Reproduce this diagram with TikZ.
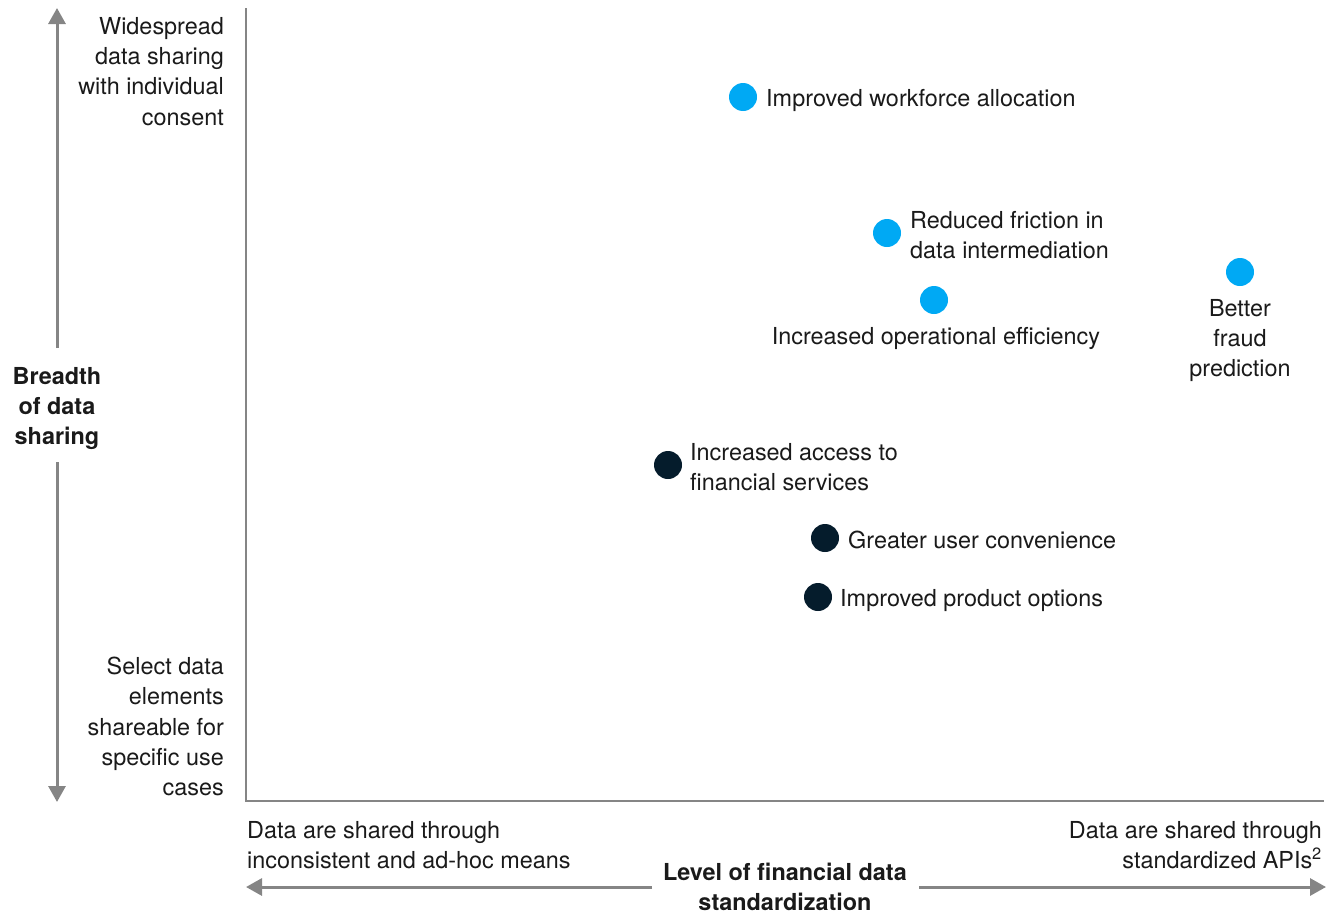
\documentclass[tikz,border=0pt]{standalone}
\usepackage{fontspec}
\setmainfont{TeX Gyre Heros}
\usetikzlibrary{arrows.meta}
\definecolor{dotblue}{HTML}{00A9F4}
\definecolor{dotnavy}{HTML}{051C2C}
\definecolor{axisgrey}{HTML}{858585}
\definecolor{txt}{HTML}{1A1A1A}
\tikzset{
  lbl/.style={inner sep=0pt, text=txt, font=\fontsize{23.4}{30.3}\selectfont},
  ttl/.style={lbl, font=\fontsize{23.4}{30.3}\selectfont\bfseries, align=center},
  bluedot/.style={circle, fill=dotblue, minimum size=28pt, inner sep=0pt},
  navydot/.style={circle, fill=dotnavy, minimum size=28pt, inner sep=0pt},
  axisline/.style={draw=axisgrey, line width=2pt},
  axisarrow/.style={draw=axisgrey, line width=3pt, -{Triangle[length=16pt, width=17pt]}}
}
\begin{document}
\begin{tikzpicture}[x=1pt, y=-1pt]
\useasboundingbox (0,0) rectangle (1337,918);
% axes
\coordinate (ytop) at (246,8);
\coordinate (orig) at (246,801);
\coordinate (xend) at (1324,801);
\draw[axisline] (ytop) -- (orig) -- (xend);
% y-axis arrows
\coordinate (ya1) at (57,348);
\coordinate (ya1t) at (57,8);
\coordinate (ya2) at (57,462);
\coordinate (ya2t) at (57,802);
\draw[axisarrow] (ya1) -- (ya1t);
\draw[axisarrow] (ya2) -- (ya2t);
% x-axis arrows
\coordinate (xa1) at (652,887);
\coordinate (xa1t) at (246,887);
\coordinate (xa2) at (919,887);
\coordinate (xa2t) at (1326,887);
\draw[axisarrow] (xa1) -- (xa1t);
\draw[axisarrow] (xa2) -- (xa2t);
% axis labels
\node[lbl, anchor=north east, align=right] (ytoplbl) at (224,17) {Widespread\\data sharing\\with individual\\consent};
\node[lbl, anchor=north east, align=right] (ybotlbl) at (224,657) {Select data\\elements\\shareable for\\specific use\\cases};
\node[ttl, anchor=north] (ytitle) at (57,367) {Breadth\\of data\\sharing};
\node[lbl, anchor=north west, align=left] (xleftlbl) at (247,821) {Data are shared through\\inconsistent and ad-hoc means};
\node[lbl, anchor=north east, align=right] (xrightlbl) at (1322,821) {Data are shared through\\standardized APIs\textsuperscript{2}};
\node[ttl, anchor=north] (xtitle) at (785,863) {Level of financial data\\standardization};
% dots
\node[bluedot] (wa) at (743,97) {};
\node[bluedot] (rf) at (887,233) {};
\node[bluedot] (oe) at (934,300) {};
\node[bluedot] (fp) at (1240,272) {};
\node[navydot] (af) at (668,465) {};
\node[navydot] (uc) at (825,538) {};
\node[navydot] (po) at (818,597) {};
% dot labels
\node[lbl, anchor=north west] (walbl) at (766,89) {Improved workforce allocation};
\node[lbl, anchor=north west, align=left] (rflbl) at (910,211) {Reduced friction in\\data intermediation};
\node[lbl, anchor=north] (oelbl) at (936,327) {Increased operational efficiency};
\node[lbl, anchor=north, align=center] (fplbl) at (1240,299) {Better\\fraud\\prediction};
\node[lbl, anchor=north west, align=left] (aflbl) at (690,443) {Increased access to\\financial services};
\node[lbl, anchor=north west] (uclbl) at (848,531) {Greater user convenience};
\node[lbl, anchor=north west] (polbl) at (840,589) {Improved product options};
\end{tikzpicture}
\end{document}
